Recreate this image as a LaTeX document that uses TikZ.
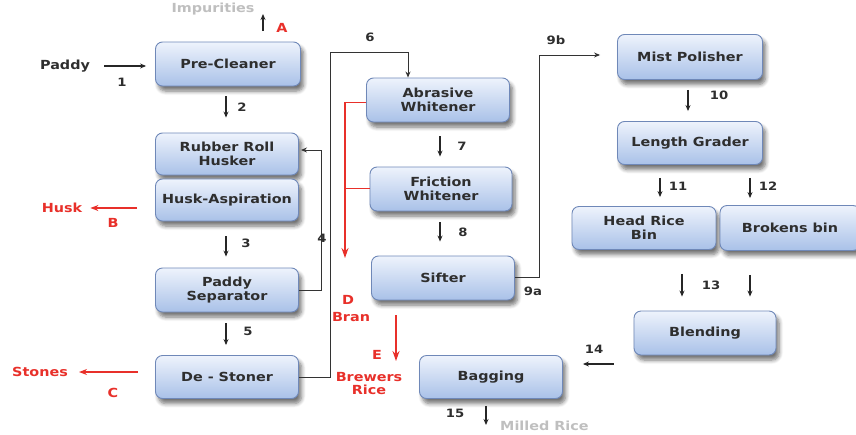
\documentclass[tikz,border=0pt]{standalone}
\usepackage{fontspec}
\setmainfont[FakeStretch=1.15]{DejaVu Sans Bold}
\usetikzlibrary{arrows.meta,shadows,shadows.blur}
\definecolor{boxtop}{HTML}{EEF3FC}
\definecolor{boxbot}{HTML}{A9C1E8}
\definecolor{boxline}{HTML}{6F88B8}
\definecolor{txt}{HTML}{2E2E2E}
\definecolor{redl}{HTML}{E8302A}
\tikzset{
  procbox/.style={rounded corners=7pt, top color=boxtop, bottom color=boxbot,
    draw=boxline, line width=0.9pt, text=txt, align=center,
    font=\fontsize{12.5}{14}\selectfont,
    blur shadow={shadow xshift=3pt, shadow yshift=-5pt, shadow blur steps=6, shadow blur radius=4pt, shadow opacity=55},
    inner sep=0pt},
  lbl/.style={font=\fontsize{11.5}{13}\selectfont, text=txt, inner sep=0pt},
  rlbl/.style={font=\fontsize{12.5}{14}\selectfont, text=redl, inner sep=0pt, align=center},
  fade/.style={font=\fontsize{12.5}{14}\selectfont, text=black!25, inner sep=0pt},
  arr/.style={-{Stealth[length=6pt,width=5pt]}, line width=1.1pt, draw=black!85},
  ln/.style={line width=1pt, draw=black!80},
  rarr/.style={-{Stealth[length=10pt,width=7pt]}, line width=1.4pt, draw=redl},
  rln/.style={line width=1pt, draw=redl},
}
\begin{document}
\begin{tikzpicture}[x=1pt,y=-1pt]
\useasboundingbox (0,0) rectangle (856,434);
% boxes
\node[procbox, minimum width=145, minimum height=44] (pc) at (228,64) {Pre-Cleaner};
\node[procbox, minimum width=143, minimum height=42] (rrh) at (227,154) {Rubber Roll\\Husker};
\node[procbox, minimum width=143, minimum height=42] (ha) at (227,200) {Husk-Aspiration};
\node[procbox, minimum width=143, minimum height=44] (ps) at (227,290) {Paddy\\Separator};
\node[procbox, minimum width=143, minimum height=43] (ds) at (227,377) {De - Stoner};
\node[procbox, minimum width=143, minimum height=44] (aw) at (438,100) {Abrasive\\Whitener};
\node[procbox, minimum width=142, minimum height=44] (fw) at (441,189) {Friction\\Whitener};
\node[procbox, minimum width=143, minimum height=44] (sf) at (443,278) {Sifter};
\node[procbox, minimum width=143, minimum height=43] (bg) at (491,377) {Bagging};
\node[procbox, minimum width=145, minimum height=45] (mp) at (690,57) {Mist Polisher};
\node[procbox, minimum width=145, minimum height=43] (lg) at (690,143) {Length Grader};
\node[procbox, minimum width=144, minimum height=43] (hr) at (644,228) {Head Rice\\Bin};
\node[procbox, minimum width=140, minimum height=45] (bb) at (790,228) {Brokens bin};
\node[procbox, minimum width=142, minimum height=44] (bl) at (705,333) {Blending};

% inputs / outputs
\node[lbl, font=\fontsize{12.5}{14}\selectfont] (paddy) at (65,66) {Paddy};
\coordinate (p1) at (104,66);
\draw[arr, shorten >=9pt] (p1) -- (p1 -| pc.west);
\node[lbl] at (122,82) {1};

\node[fade] (imp) at (213,9) {Impurities};
\coordinate (a1) at (263,31);
\coordinate (a2) at (263,14);
\draw[arr] (a1) -- (a2);
\node[rlbl] at (282,28) {A};

\node[rlbl] (husk) at (62,208) {Husk};
\draw[rarr, -{Stealth[length=8pt,width=6pt]}, line width=1.2pt] ([xshift=-18pt]ha.west |- husk) -- ([xshift=8pt]husk.east);
\node[rlbl] at (113,223) {B};

\node[rlbl] (stones) at (40,372) {Stones};
\draw[rarr, -{Stealth[length=8pt,width=6pt]}, line width=1.2pt] ([xshift=-17pt]ds.west |- stones) -- ([xshift=11pt]stones.east);
\node[rlbl] at (113,393) {C};

% main vertical arrows
\draw[arr, shorten <=10pt, shorten >=15pt] (pc.south -| 226,0) -- (rrh.north -| 226,0);
\node[lbl] at (242,107) {2};
\draw[arr, shorten <=15pt, shorten >=11pt] (ha.south -| 226,0) -- (ps.north -| 226,0);
\node[lbl] at (246,243) {3};
\draw[arr, shorten <=11pt, shorten >=10pt] (ps.south -| 226,0) -- (ds.north -| 226,0);
\node[lbl] at (248,331) {5};

% 4 feedback
\draw[ln, -{Stealth[length=6pt,width=5pt]}] (ps.east) -- ++(23,0) |- ([xshift=2pt]rrh.east |- 0,150);
\node[lbl] at (322,238) {4};

% 6 to abrasive
\draw[ln, -{Stealth[length=6pt,width=5pt]}] (ds.east) -- (330,377) |- (408,52) -- (aw.north -| 408,0);
\node[lbl] at (370,37) {6};

\draw[arr, shorten <=14pt, shorten >=10pt] (aw.south -| 440,0) -- (fw.north -| 440,0);
\node[lbl] at (462,146) {7};
\draw[arr, shorten <=11pt, shorten >=14pt] (fw.south -| 440,0) -- (sf.north -| 440,0);
\node[lbl] at (463,232) {8};

% bran
\coordinate (bend) at (345,258);
\draw[rln] (aw.west |- 0,102) -- (345,102);
\draw[rln] (fw.west |- 0,188) -- (345,188);
\draw[rarr] (345,102) -- (bend);
\node[rlbl] at (348,300) {D};
\node[rlbl] at (351,317) {Bran};

% brewers rice
\coordinate (e1) at (396,315);
\coordinate (e2) at (396,361);
\draw[rarr] (e1) -- (e2);
\node[rlbl] at (377,355) {E};
\node[rlbl, font=\fontsize{12.5}{13}\selectfont] at (369,384) {Brewers\\Rice};

% sifter to mist polisher
\draw[ln, -{Stealth[length=6pt,width=5pt]}] (sf.east |- 0,277) -- (539,277) |- ([xshift=-17pt]mp.west |- 0,55);
\node[lbl] at (533,291) {9a};
\node[lbl] at (556,40) {9b};

\draw[arr, shorten <=10pt, shorten >=10pt] (mp.south -| 688,0) -- (lg.north -| 688,0);
\node[lbl] at (719,95) {10};

\draw[arr, shorten <=13pt, shorten >=9pt] (lg.south -| 660,0) -- (hr.north -| 660,0);
\node[lbl] at (678,186) {11};
\draw[arr, shorten <=13pt, shorten >=7pt] (lg.south -| 750,0) -- (bb.north -| 750,0);
\node[lbl] at (768,186) {12};

\draw[arr, shorten <=24pt, shorten >=14pt] (hr.south -| 682,0) -- (bl.north -| 682,0);
\draw[arr, shorten <=24pt, shorten >=14pt] (bb.south -| 750,0) -- (bl.north -| 750,0);
\node[lbl] at (711,285) {13};

\draw[arr] ([xshift=-20pt]bl.west |- 0,364) -- ([xshift=20pt]bg.east |- 0,364);
\node[lbl] at (594,349) {14};

\coordinate (mr) at (486,425);
\draw[arr, shorten <=7pt] (bg.south -| 486,0) -- (mr);
\node[lbl] at (455,413) {15};
\node[fade, anchor=west] at (500,426) {Milled Rice};
\end{tikzpicture}
\end{document}
